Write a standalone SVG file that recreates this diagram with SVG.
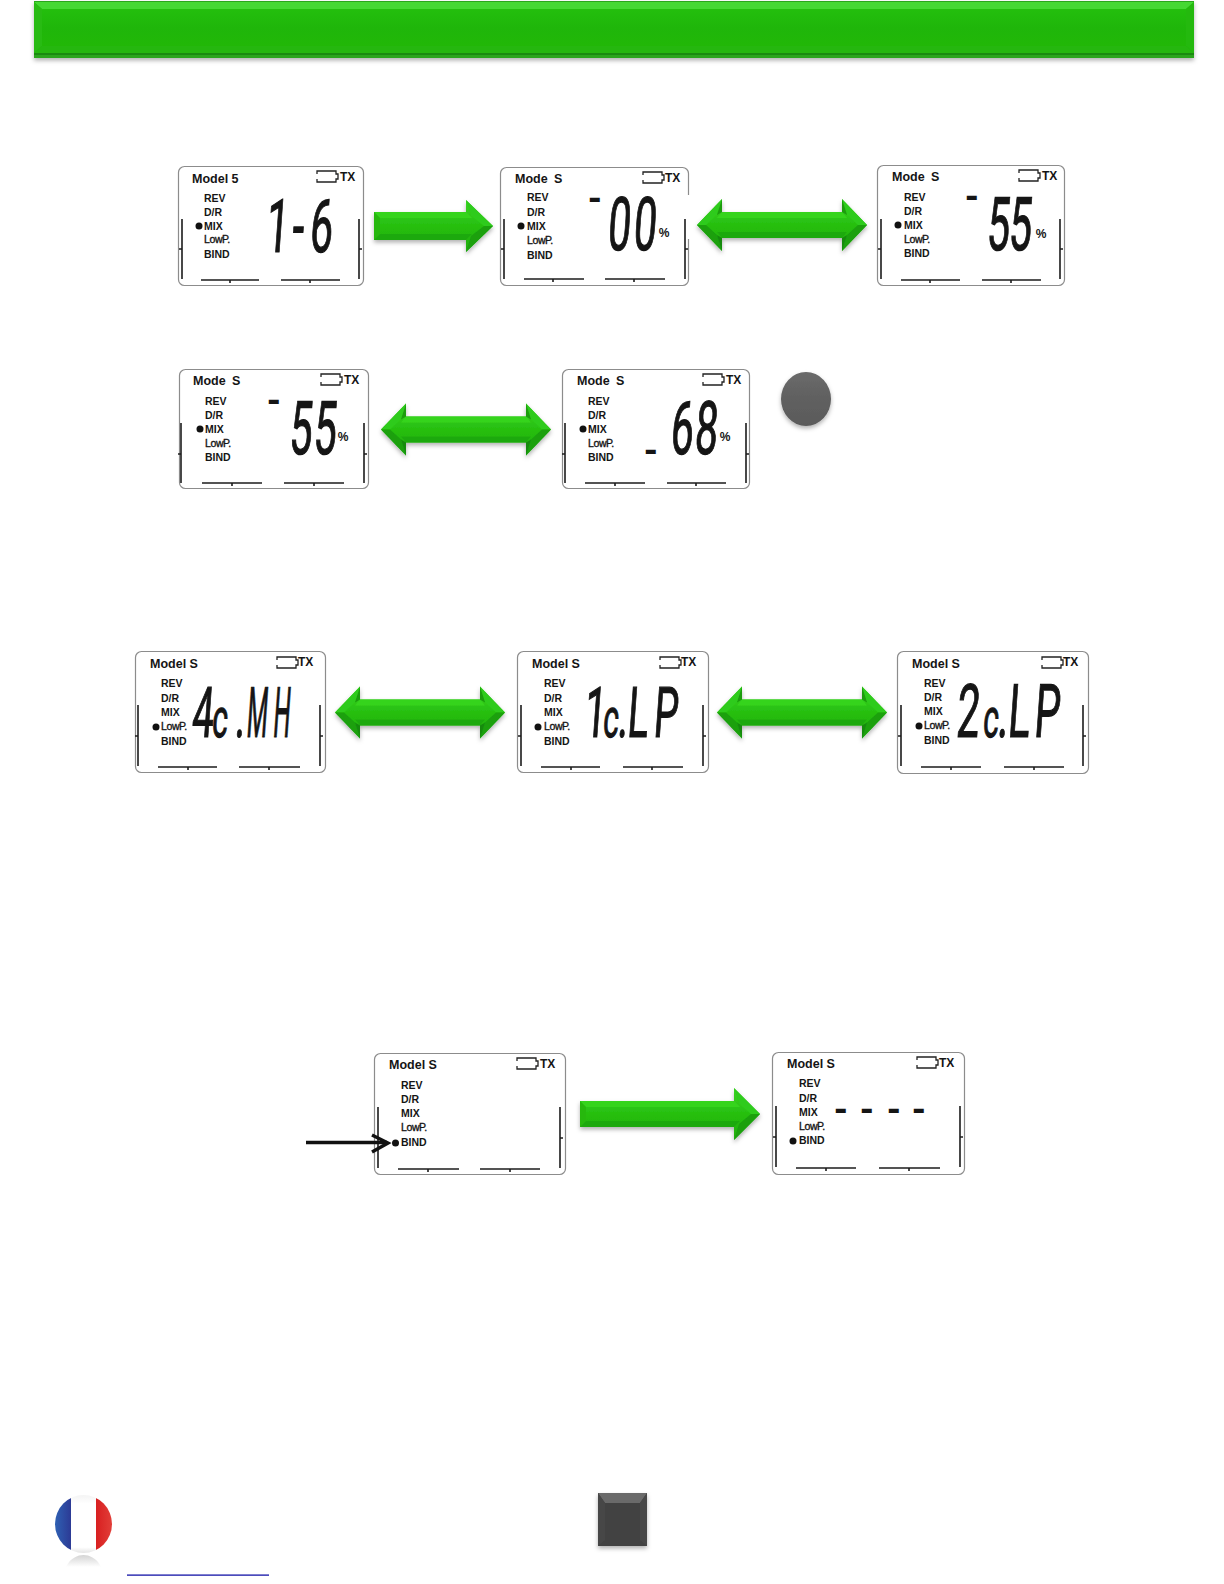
<svg xmlns="http://www.w3.org/2000/svg" xmlns:xlink="http://www.w3.org/1999/xlink" width="1224" height="1584" viewBox="0 0 1224 1584">
<style>
.lcd{fill:#fff;stroke:#8c8c8c;stroke-width:1.2}
.bar{fill:none;stroke:#1c1c1c;stroke-width:1.6}
.bat{fill:none;stroke:#222;stroke-width:1.3}
text{fill:#151515;font-family:"Liberation Sans",Arial,sans-serif}
.ttl{font-size:12.5px;font-weight:700}
.tx{font-size:12px;font-weight:700}
.mn{font-size:10.5px;font-weight:700}
.lp{font-size:10.5px;font-weight:400;stroke:#151515;stroke-width:.35;letter-spacing:-.4px}
.seg{font-family:Roboto,"Liberation Sans",sans-serif;font-size:74px;text-anchor:middle;stroke:#151515;stroke-width:1.2}
.seg2{font-family:Roboto,"Liberation Sans",sans-serif;font-size:70px;text-anchor:middle;stroke:#151515;stroke-width:1.2}
.dash{font-family:Roboto,"Liberation Sans",sans-serif;font-size:34px;font-weight:900;text-anchor:middle}
.pct{font-size:12px;font-weight:700;text-anchor:middle}
</style>
<defs>
<linearGradient id="gr" x1="0" y1="0" x2="0" y2="1"><stop offset="0" stop-color="#3ad424"/><stop offset=".55" stop-color="#25bd0e"/><stop offset="1" stop-color="#22ae10"/></linearGradient>
<linearGradient id="tb" x1="0" y1="0" x2="0" y2="1"><stop offset="0" stop-color="#25c20e"/><stop offset=".5" stop-color="#1fb60a"/><stop offset="1" stop-color="#22b806"/></linearGradient>
<linearGradient id="fb" x1="0" y1="0" x2="1" y2="0"><stop offset="0" stop-color="#2f63b5"/><stop offset="1" stop-color="#2c3a95"/></linearGradient>
<linearGradient id="fr" x1="0" y1="0" x2="1" y2="0"><stop offset="0" stop-color="#d81f20"/><stop offset="1" stop-color="#e2403a"/></linearGradient>
<linearGradient id="fw" x1="0" y1="0" x2="0" y2="1"><stop offset="0" stop-color="#f4f4f4"/><stop offset=".15" stop-color="#fff"/><stop offset=".9" stop-color="#fff"/><stop offset="1" stop-color="#e4e4e4"/></linearGradient>
<linearGradient id="rf" x1="0" y1="0" x2="0" y2="1"><stop offset="0" stop-color="#d4d4d4"/><stop offset="1" stop-color="#fff"/></linearGradient>
<linearGradient id="bt" x1="0" y1="0" x2="0" y2="1"><stop offset="0" stop-color="#6a6a6a"/><stop offset=".5" stop-color="#606060"/><stop offset="1" stop-color="#5a5a5a"/></linearGradient>
<filter id="sh" x="-10%" y="-20%" width="120%" height="150%"><feDropShadow dx="0" dy="2.500" stdDeviation="2" flood-color="#000" flood-opacity=".3"/></filter>
<clipPath id="fc"><ellipse cx="83.500" cy="1524" rx="28.500" ry="29"/></clipPath>
<g id="dbl">
<polygon points="0,0 25,-26 25,-13 145,-13 145,-26 170,0 145,26 145,13 25,13 25,26" fill="url(#gr)"/>
<polygon points="25,-13 145,-13 150,-7 20,-7" fill="#35d41f"/>
<polygon points="20,7 150,7 145,13 25,13" fill="#1fa90f"/>
<polygon points="145,-26 170,0 161,0 150,-10" fill="#2ecb1a"/>
<polygon points="145,26 170,0 161,0 150,10" fill="#1aa00c"/>
<polygon points="145,-26 150,-10 145,-13" fill="#1a9c0c"/>
<polygon points="145,26 150,10 145,13" fill="#158a08"/>
<polygon points="25,-26 0,0 9,0 20,-10" fill="#2ecb1a"/>
<polygon points="25,26 0,0 9,0 20,10" fill="#1aa00c"/>
<polygon points="25,-26 20,-10 25,-13" fill="#1a9c0c"/>
<polygon points="25,26 20,10 25,13" fill="#158a08"/>
</g>
</defs>
<rect width="1224" height="1584" fill="#fff"/>

<g id="header">
<rect x="34" y="1" width="1160" height="57" fill="#2aa51c" filter="url(#sh)"/>
<rect x="34" y="2" width="1160" height="51" fill="url(#tb)"/>
<polygon points="34,2 1194,2 1186,9 42,9" fill="#45d833"/>
<polygon points="34,2 42,9 42,46 34,53" fill="#28bb13"/>
<polygon points="1194,2 1186,9 1186,46 1194,53" fill="#24b90e"/>
<polygon points="34,53 42,46 1186,46 1194,53" fill="#25b70f"/>
<rect x="34" y="53" width="1160" height="2" fill="#1a8a10"/>
</g>

<g id="lcd-1" transform="translate(178,166)">
<rect class="lcd" x=".5" y=".5" width="185" height="119" rx="6"/>
<path class="bar" d="M4,53V113M1,83H4M181,53V113M181,83H184M23,114H81M52,114V117M103,114H162M132,114V117"/>
<path class="bat" transform="translate(139,5)" d="M0,3V0H19V3H21V8H19V11H0V8"/>
<text class="ttl" x="14" y="17">Model 5</text><text class="tx" x="162" y="15">TX</text>
<text class="mn" x="26" y="36">REV</text><text class="mn" x="26" y="50">D/R</text><text class="mn" x="26" y="64">MIX</text><text class="lp" x="26" y="77">LowP.</text><text class="mn" x="26" y="92">BIND</text>
<circle cx="21" cy="60" r="3.500" fill="#111"/>
</g>
<text class="seg" transform="translate(0,252) skewX(-4) scale(.55,1)" x="502 540 582">1-6</text>

<g id="lcd-2" transform="translate(500,167)">
<rect class="lcd" x=".5" y=".5" width="188" height="118" rx="6"/>
<path class="bar" d="M4,52V112M1,82H4M185,52V112M185,82H188M24,112H84M53,112V115M105,112H165M134,112V115"/>
<rect x="186" y="28" width="5" height="44" fill="#fff"/>
<path class="bat" transform="translate(143,5)" d="M0,3V0H19V3H21V8H19V11H0V8"/>
<text class="ttl" x="15" y="16">Mode <tspan dx="3">S</tspan></text><text class="tx" x="165" y="15">TX</text>
<text class="mn" x="27" y="34">REV</text><text class="mn" x="27" y="49">D/R</text><text class="mn" x="27" y="63">MIX</text><text class="lp" x="27" y="77">LowP.</text><text class="mn" x="27" y="92">BIND</text>
<circle cx="21" cy="59" r="3.500" fill="#111"/>
</g>
<text class="seg" transform="translate(0,250) skewX(-4) scale(.55,1)" x="1124 1171">00</text>
<text class="dash" x="595" y="210">-</text><text class="pct" x="664" y="237">%</text>

<g id="lcd-3" transform="translate(877,165)">
<rect class="lcd" x=".5" y=".5" width="187" height="120" rx="6"/>
<path class="bar" d="M4,54V114M1,84H4M183,54V114M183,84H186M24,115H83M53,115V118M105,115H164M134,115V118"/>
<path class="bat" transform="translate(142,5)" d="M0,3V0H19V3H21V8H19V11H0V8"/>
<text class="ttl" x="15" y="16">Mode <tspan dx="3">S</tspan></text><text class="tx" x="165" y="15">TX</text>
<text class="mn" x="27" y="36">REV</text><text class="mn" x="27" y="50">D/R</text><text class="mn" x="27" y="64">MIX</text><text class="lp" x="27" y="78">LowP.</text><text class="mn" x="27" y="92">BIND</text>
<circle cx="21" cy="60" r="3.500" fill="#111"/>
</g>
<text class="seg" transform="translate(0,250) skewX(-4) scale(.55,1)" x="1813 1853">55</text>
<text class="dash" x="972" y="208">-</text><text class="pct" x="1041" y="238">%</text>

<g id="lcd-4" transform="translate(179,369)">
<rect class="lcd" x=".5" y=".5" width="189" height="119" rx="6"/>
<path class="bar" d="M2,54V114M-1,85H2M185,54V114M185,85H188M23,114H83M53,114V117M105,114H165M135,114V117"/>
<path class="bat" transform="translate(142,5)" d="M0,3V0H19V3H21V8H19V11H0V8"/>
<text class="ttl" x="14" y="16">Mode <tspan dx="3">S</tspan></text><text class="tx" x="165" y="15">TX</text>
<text class="mn" x="26" y="36">REV</text><text class="mn" x="26" y="50">D/R</text><text class="mn" x="26" y="64">MIX</text><text class="lp" x="26" y="78">LowP.</text><text class="mn" x="26" y="92">BIND</text>
<circle cx="21" cy="60" r="3.500" fill="#111"/>
</g>
<text class="seg" transform="translate(0,454) skewX(-4) scale(.55,1)" x="545 589">55</text>
<text class="dash" x="274" y="412">-</text><text class="pct" x="343" y="441">%</text>

<g id="lcd-5" transform="translate(562,369)">
<rect class="lcd" x=".5" y=".5" width="187" height="119" rx="6"/>
<path class="bar" d="M3,54V114M0,85H3M184,54V114M184,85H187M23,114H83M53,114V117M105,114H164M134,114V117"/>
<path class="bat" transform="translate(141,5)" d="M0,3V0H19V3H21V8H19V11H0V8"/>
<text class="ttl" x="15" y="16">Mode <tspan dx="3">S</tspan></text><text class="tx" x="164" y="15">TX</text>
<text class="mn" x="26" y="36">REV</text><text class="mn" x="26" y="50">D/R</text><text class="mn" x="26" y="64">MIX</text><text class="lp" x="26" y="78">LowP.</text><text class="mn" x="26" y="92">BIND</text>
<circle cx="21" cy="60" r="3.500" fill="#111"/>
</g>
<text class="seg" transform="translate(0,454) skewX(-4) scale(.55,1)" x="1238 1282">68</text>
<text class="dash" x="651" y="462">-</text><text class="pct" x="725" y="441">%</text>

<ellipse id="button" cx="806" cy="399" rx="25" ry="27" fill="url(#bt)" filter="url(#sh)"/>

<g id="lcd-6" transform="translate(135,651)">
<rect class="lcd" x=".5" y=".5" width="190" height="121" rx="6"/>
<path class="bar" d="M3,54V115M0,85H3M185,54V115M185,85H188M23,116H82M53,116V119M104,116H165M134,116V119"/>
<path class="bat" transform="translate(142,6)" d="M0,3V0H19V3H21V8H19V11H0V8"/>
<text class="ttl" x="15" y="17">Model S</text><text class="tx" x="163" y="15">TX</text>
<text class="mn" x="26" y="36">REV</text><text class="mn" x="26" y="51">D/R</text><text class="mn" x="26" y="65">MIX</text><text class="lp" x="26" y="79">LowP.</text><text class="mn" x="26" y="94">BIND</text>
<circle cx="21" cy="76" r="3.500" fill="#111"/>
</g>
<text class="seg2" transform="translate(0,737) skewX(-4) scale(.55,1)" x="367 398 435">4<tspan font-size="54">c</tspan>.</text>
<text class="seg2" transform="translate(0,737) skewX(-4) scale(.34,1)" x="753 826">MH</text>

<g id="lcd-7" transform="translate(517,651)">
<rect class="lcd" x=".5" y=".5" width="191" height="121" rx="6"/>
<path class="bar" d="M4,54V115M1,85H4M186,54V115M186,85H189M24,116H83M54,116V119M106,116H166M135,116V119"/>
<path class="bat" transform="translate(143,6)" d="M0,3V0H19V3H21V8H19V11H0V8"/>
<text class="ttl" x="15" y="17">Model S</text><text class="tx" x="164" y="15">TX</text>
<text class="mn" x="27" y="36">REV</text><text class="mn" x="27" y="51">D/R</text><text class="mn" x="27" y="65">MIX</text><text class="lp" x="27" y="79">LowP.</text><text class="mn" x="27" y="94">BIND</text>
<circle cx="21" cy="76" r="3.500" fill="#111"/>
</g>
<text class="seg2" transform="translate(0,737) skewX(-4) scale(.55,1)" x="1080 1109 1131 1158 1209">1<tspan font-size="54">c</tspan>.LP</text>

<g id="lcd-8" transform="translate(897,651)">
<rect class="lcd" x=".5" y=".5" width="191" height="122" rx="6"/>
<path class="bar" d="M4,54V115M1,85H4M186,54V115M186,85H189M24,116H84M54,116V119M107,116H167M137,116V119"/>
<path class="bat" transform="translate(145,6)" d="M0,3V0H19V3H21V8H19V11H0V8"/>
<text class="ttl" x="15" y="17">Model S</text><text class="tx" x="166" y="15">TX</text>
<text class="mn" x="27" y="36">REV</text><text class="mn" x="27" y="50">D/R</text><text class="mn" x="27" y="64">MIX</text><text class="lp" x="27" y="78">LowP.</text><text class="mn" x="27" y="93">BIND</text>
<circle cx="22" cy="75" r="3.500" fill="#111"/>
</g>
<text class="seg" transform="translate(0,737) skewX(-4) scale(.55,1)" x="1758 1800 1822 1851 1902">2<tspan font-size="54">c</tspan>.LP</text>

<g id="lcd-9" transform="translate(374,1053)">
<rect class="lcd" x=".5" y=".5" width="191" height="121" rx="6"/>
<path class="bar" d="M4,54V115M186,54V115M186,85H189M24,116H85M54,116V119M106,116H166M136,116V119"/>
<path class="bat" transform="translate(143,5)" d="M0,3V0H19V3H21V8H19V11H0V8"/>
<text class="ttl" x="15" y="16">Model S</text><text class="tx" x="166" y="15">TX</text>
<text class="mn" x="27" y="36">REV</text><text class="mn" x="27" y="50">D/R</text><text class="mn" x="27" y="64">MIX</text><text class="lp" x="27" y="78">LowP.</text><text class="mn" x="27" y="93">BIND</text>
<circle cx="21.500" cy="90" r="3.500" fill="#111"/>
</g>

<g id="lcd-10" transform="translate(772,1052)">
<rect class="lcd" x=".5" y=".5" width="192" height="122" rx="6"/>
<path class="bar" d="M4,54V115M1,85H4M188,54V115M188,85H191M24,116H84M54,116V119M107,116H168M137,116V119"/>
<path class="bat" transform="translate(145,5)" d="M0,3V0H19V3H21V8H19V11H0V8"/>
<text class="ttl" x="15" y="16">Model S</text><text class="tx" x="167" y="15">TX</text>
<text class="mn" x="27" y="35">REV</text><text class="mn" x="27" y="50">D/R</text><text class="mn" x="27" y="64">MIX</text><text class="lp" x="27" y="78">LowP.</text><text class="mn" x="27" y="92">BIND</text>
<circle cx="21" cy="89" r="3.500" fill="#111"/>
</g>
<text class="dash" x="841 867 894 919" y="1121">----</text>

<g id="connectors">
<g id="arrow-1" filter="url(#sh)" transform="translate(374,226)">
<polygon points="0,-14 92,-14 92,-26 119,0 92,26 92,14 0,14" fill="url(#gr)"/>
<polygon points="0,-14 92,-14 98,-8 6,-8" fill="#35d41f"/>
<polygon points="0,-14 6,-8 6,8 0,14" fill="#25b80f"/>
<polygon points="0,14 6,8 98,8 92,14" fill="#1fa90f"/>
<polygon points="92,-26 119,0 110,0 97,-10" fill="#2ecb1a"/>
<polygon points="92,26 119,0 110,0 97,10" fill="#1aa00c"/>
</g>
<use xlink:href="#dbl" href="#dbl" transform="translate(697,225)" filter="url(#sh)"/>
<use xlink:href="#dbl" href="#dbl" transform="translate(381,429.500)" filter="url(#sh)"/>
<use xlink:href="#dbl" href="#dbl" transform="translate(335,712.500)" filter="url(#sh)"/>
<use xlink:href="#dbl" href="#dbl" transform="translate(717,712.500)" filter="url(#sh)"/>
<g id="arrow-6" filter="url(#sh)" transform="translate(580,1114)">
<polygon points="0,-13 154,-13 154,-26 180,0 154,26 154,13 0,13" fill="url(#gr)"/>
<polygon points="0,-13 154,-13 160,-7 6,-7" fill="#35d41f"/>
<polygon points="0,-13 6,-7 6,7 0,13" fill="#25b80f"/>
<polygon points="0,13 6,7 160,7 154,13" fill="#1fa90f"/>
<polygon points="154,-26 180,0 171,0 159,-10" fill="#2ecb1a"/>
<polygon points="154,26 180,0 171,0 159,10" fill="#1aa00c"/>
</g>
<g id="pointer" fill="none" stroke="#111" stroke-width="3.400">
<path d="M306,1142.500H387"/><path d="M372,1135L388,1143L372,1152"/>
</g>
</g>

<g id="flag">
<ellipse cx="83.500" cy="1524" rx="28.500" ry="29" fill="url(#fw)"/>
<g clip-path="url(#fc)"><rect x="54" y="1494" width="17" height="60" fill="url(#fb)"/><rect x="96" y="1494" width="17" height="60" fill="url(#fr)"/></g>
<path d="M66,1567C70,1558 78,1555 83.500,1555C89,1555 97,1558 101,1567Z" fill="url(#rf)"/>
</g>
<rect id="link" x="127" y="1574.500" width="142" height="1.200" fill="#0000a0"/>
<g id="stop" filter="url(#sh)">
<rect x="598" y="1493" width="49" height="53" fill="#434343"/>
<polygon points="598,1493 647,1493 640,1503 605,1503" fill="#6a6a6a"/>
<polygon points="598,1493 605,1503 605,1540 598,1546" fill="#474747"/>
<polygon points="647,1493 640,1503 640,1540 647,1546" fill="#474747"/>
</g>
</svg>
